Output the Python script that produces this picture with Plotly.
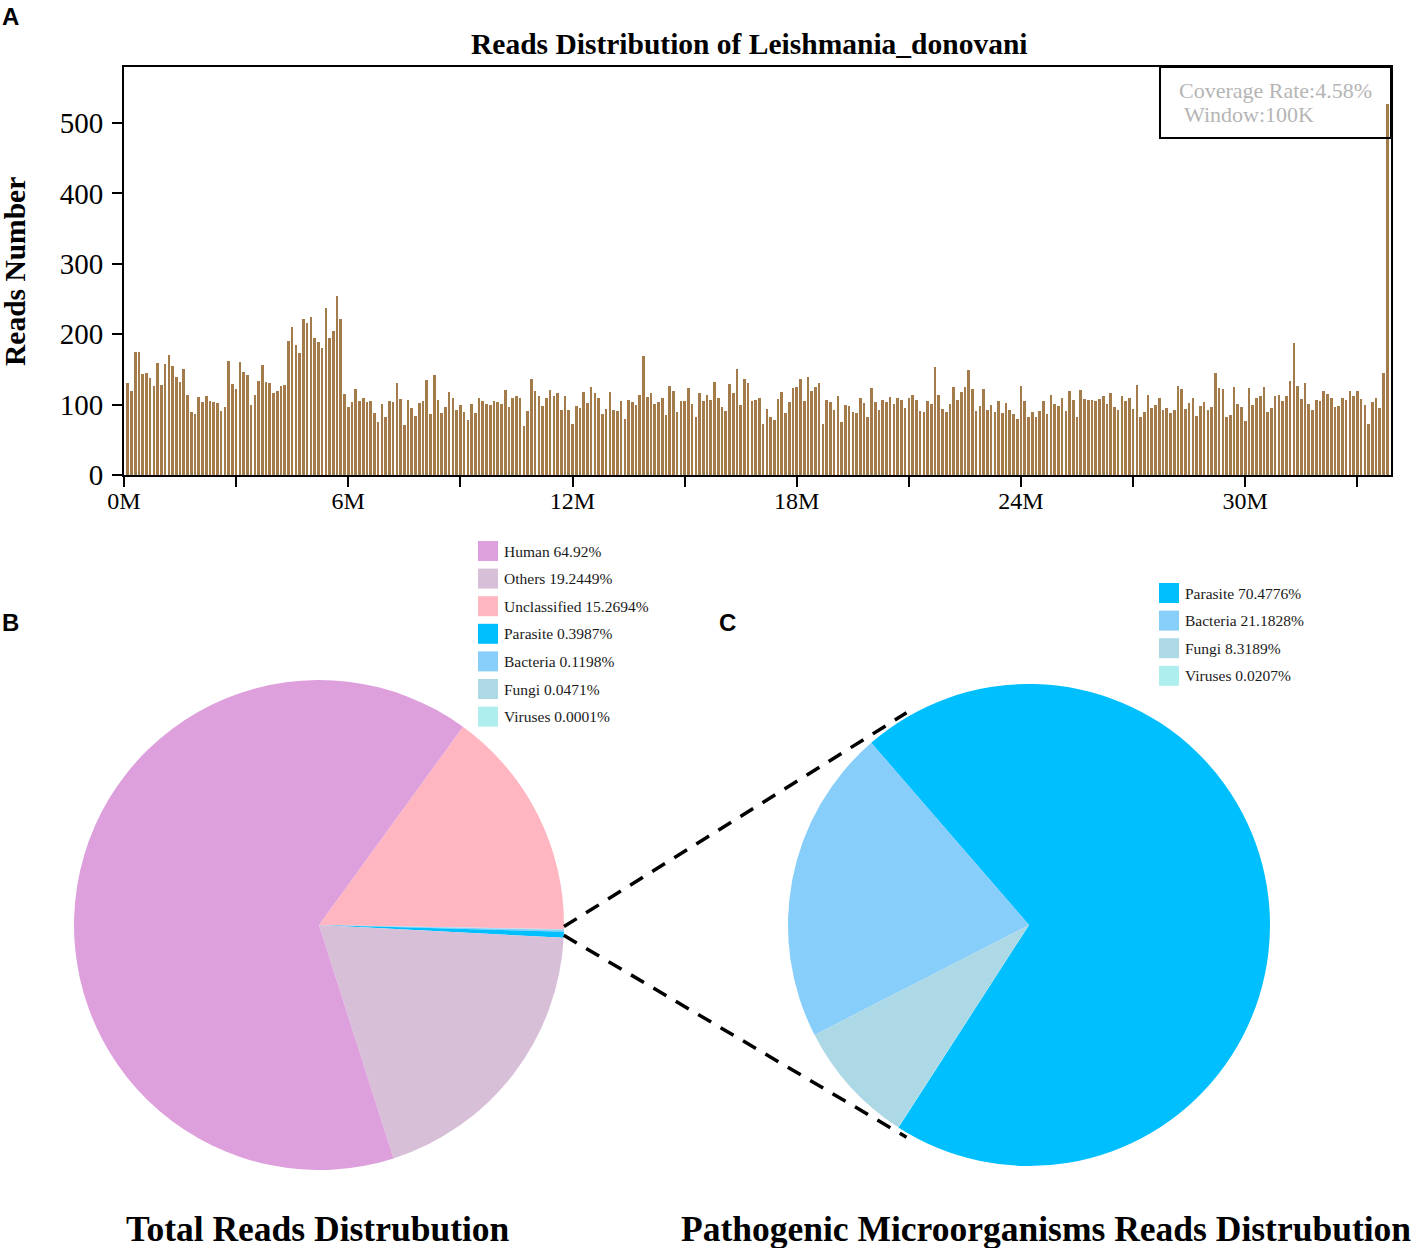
import math
import numpy as np
import plotly.graph_objects as go

# ---------------- data ----------------
window_mb = 0.1  # 100K window
reads_per_window = [
    131, 120, 174, 175, 144, 145, 138, 126, 159, 128, 157, 171, 155, 139, 132, 150, 113, 90, 87, 111,
    103, 112, 105, 103, 102, 91, 97, 162, 129, 122, 160, 146, 142, 100, 113, 133, 156, 132, 131, 116,
    120, 126, 128, 190, 210, 185, 173, 221, 216, 225, 195, 189, 180, 237, 194, 205, 254, 222, 115, 96,
    103, 122, 105, 109, 104, 105, 88, 75, 101, 83, 105, 104, 130, 108, 71, 106, 95, 84, 102, 105,
    135, 86, 142, 107, 88, 97, 118, 109, 92, 100, 89, 78, 101, 88, 110, 105, 101, 99, 105, 103,
    101, 121, 97, 109, 112, 109, 70, 91, 136, 119, 112, 98, 109, 121, 112, 116, 92, 112, 92, 73,
    98, 95, 118, 102, 125, 117, 110, 86, 94, 118, 93, 91, 105, 80, 106, 104, 100, 114, 169, 111,
    117, 101, 104, 109, 85, 127, 119, 89, 105, 105, 123, 101, 83, 117, 105, 114, 106, 132, 109, 96,
    91, 129, 116, 150, 100, 136, 130, 105, 107, 109, 73, 94, 83, 78, 108, 118, 88, 103, 123, 125,
    136, 105, 139, 120, 125, 131, 72, 107, 104, 92, 112, 75, 100, 98, 89, 88, 110, 102, 83, 123,
    103, 93, 106, 103, 111, 101, 110, 106, 95, 110, 114, 107, 91, 90, 105, 101, 154, 113, 94, 90,
    101, 125, 107, 118, 125, 149, 122, 91, 98, 122, 92, 100, 90, 105, 88, 102, 92, 86, 80, 127,
    105, 83, 90, 82, 91, 105, 87, 114, 101, 98, 110, 91, 119, 106, 83, 121, 108, 107, 106, 105,
    108, 112, 101, 116, 97, 93, 112, 105, 109, 94, 128, 82, 90, 114, 95, 99, 109, 92, 95, 88,
    93, 126, 122, 94, 102, 109, 84, 98, 104, 93, 96, 145, 124, 122, 82, 85, 125, 101, 97, 76,
    124, 100, 109, 112, 125, 89, 95, 112, 113, 105, 112, 134, 187, 127, 108, 130, 101, 92, 107, 105,
    120, 115, 110, 97, 98, 110, 106, 119, 112, 120, 108, 100, 73, 103, 109, 95, 145, 527,
]
x_tick_values = [0, 6, 12, 18, 24, 30]
y_tick_values = [0, 100, 200, 300, 400, 500]
coverage_text = ["Coverage Rate:4.58%", "Window:100K"]

total_labels = ["Human", "Others", "Unclassified", "Parasite", "Bacteria", "Fungi", "Viruses"]
total_values = [64.92, 19.2449, 15.2694, 0.3987, 0.1198, 0.0471, 0.0001]
total_colors = ["#DDA0DD", "#D8BFD8", "#FFB6C1", "#00BFFF", "#87CEFA", "#ADD8E6", "#AFEEEE"]

patho_labels = ["Parasite", "Bacteria", "Fungi", "Viruses"]
patho_values = [70.4776, 21.1828, 8.3189, 0.0207]
patho_colors = ["#00BFFF", "#87CEFA", "#ADD8E6", "#AFEEEE"]

# ---------------- geometry helpers ----------------
W, H = 1418, 1248
SERIF = "Liberation Serif, Times New Roman, serif"
SANS = "Liberation Sans, Arial, sans-serif"


def px(x):
    return x / W


def py(y):
    return 1 - y / H


positions = (np.arange(len(reads_per_window)) + 1) * window_mb

fig = go.Figure()

fig.add_trace(go.Bar(
    x=positions, y=reads_per_window, width=0.07,
    marker=dict(color="#A47B4B", line=dict(width=0)),
    showlegend=False, xaxis="x", yaxis="y",
))

# Pie B (drawn clockwise: Unclassified, small ones, Others, Human)
draw_order_b = [2, 6, 5, 4, 3, 1, 0]
rot_b = 36.0
cB, rB = (319, 925), 245
fig.add_trace(go.Pie(
    labels=[total_labels[i] for i in draw_order_b],
    values=[total_values[i] for i in draw_order_b],
    marker=dict(colors=[total_colors[i] for i in draw_order_b], line=dict(width=0)),
    sort=False, direction="clockwise", rotation=rot_b,
    textinfo="none", showlegend=False, automargin=False,
    domain=dict(x=[px(cB[0] - rB), px(cB[0] + rB)], y=[py(cB[1] + rB), py(cB[1] - rB)]),
))

# Pie C
cC, rC = (1029, 925), 241
fig.add_trace(go.Pie(
    labels=patho_labels, values=patho_values,
    marker=dict(colors=patho_colors, line=dict(width=0)),
    sort=False, direction="counterclockwise", rotation=-40.9,
    textinfo="none", showlegend=False, automargin=False,
    domain=dict(x=[px(cC[0] - rC), px(cC[0] + rC)], y=[py(cC[1] + rC), py(cC[1] - rC)]),
))

axis_font = dict(family=SERIF, color="black")
fig.update_layout(
    width=W, height=H,
    margin=dict(l=0, r=0, t=0, b=0, pad=0, autoexpand=False),
    paper_bgcolor="white", plot_bgcolor="white",
    showlegend=False,
    bargap=0,
    xaxis=dict(
        domain=[px(124), px(1391)], range=[0, 33.9], anchor="y", automargin=False,
        tickmode="array", tickvals=x_tick_values, ticktext=[f"{v}M" for v in x_tick_values],
        ticks="outside", ticklen=10, tickwidth=2, tickcolor="black", ticklabelstandoff=-7,
        minor=dict(dtick=3, tick0=0, ticks="outside", ticklen=10, tickwidth=2, tickcolor="black"),
        showline=True, linewidth=2, linecolor="black", mirror=True,
        showgrid=False, zeroline=False,
        tickfont=dict(size=24, **axis_font),
    ),
    yaxis=dict(
        domain=[py(475), py(67)], range=[0, 579.5], anchor="x", automargin=False,
        tickmode="array", tickvals=y_tick_values,
        ticks="outside", ticklen=10, tickwidth=2, tickcolor="black", ticklabelstandoff=3,
        showline=True, linewidth=2, linecolor="black", mirror=True,
        showgrid=False, zeroline=False,
        tickfont=dict(size=29, **axis_font),
    ),
)

annotations = []
shapes = []

# Title and axis title
annotations.append(dict(text="Reads Distribution of Leishmania_donovani", x=px(750), y=py(44),
                        xref="paper", yref="paper", showarrow=False, xanchor="center", yanchor="middle",
                        font=dict(family=SERIF, size=29.5, color="black", weight="bold")))
annotations.append(dict(text="Reads Number", x=px(15), y=py(272), textangle=-90,
                        xref="paper", yref="paper", showarrow=False, xanchor="center", yanchor="middle",
                        font=dict(family=SERIF, size=29.5, color="black", weight="bold")))

# Coverage box
shapes.append(dict(type="rect", xref="paper", yref="paper", x0=px(1160), x1=px(1391), y0=py(138), y1=py(67),
                   line=dict(color="black", width=2), fillcolor="rgba(0,0,0,0)"))
for k, t in enumerate(coverage_text):
    annotations.append(dict(text=t, x=px(1177 + 5 * k), y=py(91 + 23 * k), xref="paper", yref="paper",
                            showarrow=False, xanchor="left", yanchor="middle",
                            font=dict(family=SERIF, size=22, color="#B5B5B5")))

# Panel letters
for letter, (lx, ly) in {"A": (10, 17), "B": (10, 622), "C": (727, 622)}.items():
    annotations.append(dict(text=letter, x=px(lx), y=py(ly), xref="paper", yref="paper", showarrow=False,
                            xanchor="center", yanchor="middle",
                            font=dict(family=SANS, size=24, color="black", weight="bold")))

# Legends
def add_legend(labels, values, colors, x0, y0, step):
    for k, (lab, val, col) in enumerate(zip(labels, values, colors)):
        yc = y0 + step * k
        shapes.append(dict(type="rect", xref="paper", yref="paper", x0=px(x0), x1=px(x0 + 20),
                           y0=py(yc + 10), y1=py(yc - 10), fillcolor=col, line=dict(width=0)))
        annotations.append(dict(text=f"{lab} {val}%", x=px(x0 + 24), y=py(yc), xref="paper", yref="paper",
                                showarrow=False, xanchor="left", yanchor="middle",
                                font=dict(family=SERIF, size=15.5, color="#1a1a1a")))

add_legend(total_labels, total_values, total_colors, 478, 551, 27.6)
add_legend(patho_labels, patho_values, patho_colors, 1159, 593, 27.6)

# Connector dashed lines: from the pathogen wedge on pie B to tangent-ish points of pie C
tot = sum(total_values)
small = sum(total_values[3:])
a_start = rot_b + total_values[2] / tot * 360  # clockwise from top (degrees)
a_end = a_start + small / tot * 360
for ang_b, ang_c_math in [(a_start - 0.6, 120.0), (a_end - 0.6, 240.0)]:
    xb = cB[0] + rB * math.sin(math.radians(ang_b))
    yb = cB[1] - rB * math.cos(math.radians(ang_b))
    xc = cC[0] + (rC + 4) * math.cos(math.radians(ang_c_math))
    yc = cC[1] - (rC + 4) * math.sin(math.radians(ang_c_math))
    shapes.append(dict(type="line", xref="paper", yref="paper", x0=px(xb), y0=py(yb), x1=px(xc), y1=py(yc),
                       line=dict(color="black", width=3.5, dash="15px,11px")))

# Bottom titles
annotations.append(dict(text="Total Reads Distrubution", x=px(318), y=py(1229), xref="paper", yref="paper",
                        showarrow=False, xanchor="center", yanchor="middle",
                        font=dict(family=SERIF, size=35.5, color="black", weight="bold")))
annotations.append(dict(text="Pathogenic Microorganisms Reads Distrubution", x=px(1046), y=py(1229),
                        xref="paper", yref="paper", showarrow=False, xanchor="center", yanchor="middle",
                        font=dict(family=SERIF, size=35.5, color="black", weight="bold")))

fig.update_layout(annotations=annotations, shapes=shapes)
fig.write_html(
    "out.html",
    config={"displayModeBar": False},
    post_script=(
        "document.documentElement.style.margin='0px';"
        "document.documentElement.style.overflow='hidden';"
        "document.body.style.margin='0px';"
        "document.body.style.overflow='hidden';"
    ),
)
